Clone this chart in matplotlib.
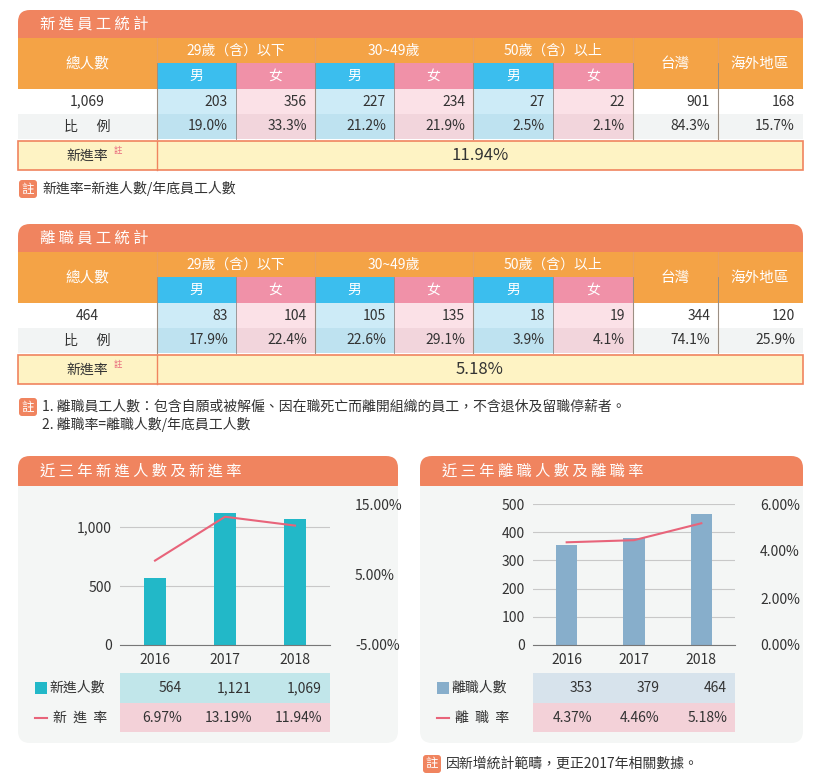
import matplotlib.pyplot as plt
from matplotlib.patches import Rectangle, FancyBboxPatch
from matplotlib.ticker import FuncFormatter

plt.rcParams['font.family'] = ['Noto Sans CJK TC']

# ---- data ----
col_groups = ['29歲（含）以下', '30~49歲', '50歲（含）以上']
genders = ['男', '女']
hire_total = '1,069'
hire_counts = [203, 356, 227, 234, 27, 22, 901, 168]
hire_ratio = ['19.0%', '33.3%', '21.2%', '21.9%', '2.5%', '2.1%', '84.3%', '15.7%']
hire_rate = '11.94%'
leave_total = '464'
leave_counts = [83, 104, 105, 135, 18, 19, 344, 120]
leave_ratio = ['17.9%', '22.4%', '22.6%', '29.1%', '3.9%', '4.1%', '74.1%', '25.9%']
leave_rate = '5.18%'

years = ['2016', '2017', '2018']
new_hires = [564, 1121, 1069]
new_rate = [6.97, 13.19, 11.94]
leavers = [353, 379, 464]
leave_rate_hist = [4.37, 4.46, 5.18]

ORANGE = '#F0845F'
HDR = '#F4A346'
BLUE = '#3BBEEE'
PINK = '#F091A8'
LBLUE = '#CDEBF7'
LPINK = '#FBE1E7'
RBLUE = '#BEE2F0'
RPINK = '#F2D5DC'
GRAY = '#F2F4F4'
TEXT = '#333333'

fig = plt.figure(figsize=(8.15, 7.83), dpi=100)
ax = fig.add_axes([0, 0, 1, 1])
ax.set_xlim(0, 815)
ax.set_ylim(783, 0)
ax.axis('off')

cols = [18, 157, 236, 315, 394, 473, 553, 633, 718, 803]


def rect(x0, y0, x1, y1, fc, ec='none', lw=0, z=1):
    ax.add_patch(Rectangle((x0, y0), x1 - x0, y1 - y0, fc=fc, ec=ec, lw=lw, zorder=z))


def title_bar(x0, y0, x1, y1, text):
    ax.add_patch(FancyBboxPatch((x0, y0), x1 - x0, (y1 - y0) * 2, boxstyle='round,pad=0,rounding_size=12',
                                fc=ORANGE, ec='none', zorder=1))
    rect(x0, y1, x1, y1 + (y1 - y0) + 2, 'white', z=1.5)
    ax.text(x0 + 22, (y0 + y1) / 2, '  '.join(text).replace('  ', ' '), color='white', fontsize=11,
            va='center', ha='left', zorder=3)


def table(y0, title, total, counts, ratio, rate):
    title_bar(18, y0, 803, y0 + 28, title)
    h1, h2, d, r, e = y0 + 28, y0 + 53, y0 + 79, y0 + 104, y0 + 129
    rect(18, h1, 803, d, HDR, z=2)
    ax.text(87, (h1 + d) / 2, '總人數', color='white', fontsize=10.5, ha='center', va='center', zorder=3)
    for i, g in enumerate(col_groups):
        xa, xb = cols[1 + 2 * i], cols[3 + 2 * i]
        ax.text((xa + xb) / 2, (h1 + h2) / 2, g, color='white', fontsize=10, ha='center', va='center', zorder=3)
        for j, gd in enumerate(genders):
            c0, c1 = cols[1 + 2 * i + j], cols[2 + 2 * i + j]
            rect(c0, h2, c1, d, BLUE if j == 0 else PINK, z=2)
            ax.text((c0 + c1) / 2, (h2 + d) / 2, gd, color='white', fontsize=10, ha='center', va='center', zorder=3)
            rect(c0, d, c1, r, LBLUE if j == 0 else LPINK, z=2)
            rect(c0, r, c1, e, RBLUE if j == 0 else RPINK, z=2)
    ax.text(675, (h1 + d) / 2, '台灣', color='white', fontsize=10.5, ha='center', va='center', zorder=3)
    ax.text(760, (h1 + d) / 2, '海外地區', color='white', fontsize=10.5, ha='center', va='center', zorder=3)
    rect(18, r, 157, e, GRAY, z=2)
    rect(633, r, 803, e, GRAY, z=2)
    for x in cols[1:-1]:
        ax.plot([x, x], [h1 if x in (157, 315, 473, 633, 718) else h2, e], color='white' if False else '#E8A060',
                lw=0.8, zorder=4) if x in (157, 315, 473, 633, 718) else None
        ax.plot([x, x], [h2, e], color='#8C8C8C', lw=0.6, zorder=4)
    ax.text(87, (d + r) / 2, total, fontsize=10, color=TEXT, ha='center', va='center', zorder=3)
    ax.text(87, (r + e) / 2, '比      例', fontsize=10, color=TEXT, ha='center', va='center', zorder=3)
    for k in range(8):
        ax.text(cols[k + 2] - 8, (d + r) / 2, f'{counts[k]:,}', fontsize=10, color=TEXT, ha='right', va='center', zorder=5)
        ax.text(cols[k + 2] - 8, (r + e) / 2, ratio[k], fontsize=10, color=TEXT, ha='right', va='center', zorder=5)
    rect(18, e + 2, 803, e + 31, '#FEF3C4', ec=ORANGE, lw=1.2, z=2)
    ax.plot([157, 157], [e + 2, e + 31], color=ORANGE, lw=1.0, zorder=3)
    ax.text(87, e + 17, '新進率', fontsize=10, color=TEXT, ha='center', va='center', zorder=3)
    ax.text(118, e + 12, '註', fontsize=6, color='#E8647A', ha='center', va='center', zorder=3)
    ax.text(480, e + 17, rate, fontsize=12, color=TEXT, ha='center', va='center', zorder=3)


def note_tag(x, y):
    ax.add_patch(FancyBboxPatch((x, y - 9), 18, 18, boxstyle='round,pad=0,rounding_size=3', fc=ORANGE, ec='none'))
    ax.text(x + 9, y, '註', color='white', fontsize=9, ha='center', va='center')


table(10, '新進員工統計', hire_total, hire_counts, hire_ratio, hire_rate)
note_tag(19, 189)
ax.text(42, 189, '新進率=新進人數/年底員工人數', fontsize=10, color=TEXT, va='center')

table(224, '離職員工統計', leave_total, leave_counts, leave_ratio, leave_rate)
note_tag(19, 407)
ax.text(42, 407, '1. 離職員工人數：包含自願或被解僱、因在職死亡而離開組織的員工，不含退休及留職停薪者。',
        fontsize=10, color=TEXT, va='center')
ax.text(42, 425, '2. 離職率=離職人數/年底員工人數', fontsize=10, color=TEXT, va='center')


def chart_panel(x0, x1, title, vals, rates, bar_c, lbl1, lbl2, lylim, lticks, lfmt, rylim, rticks):
    ax.add_patch(FancyBboxPatch((x0, 456), x1 - x0, 287, boxstyle='round,pad=0,rounding_size=12',
                                fc='#F4F6F5', ec='none', zorder=0.5))
    ax.add_patch(FancyBboxPatch((x0, 456), x1 - x0, 40, boxstyle='round,pad=0,rounding_size=12',
                                fc=ORANGE, ec='none', zorder=1))
    rect(x0, 486, x1, 497, '#F4F6F5', z=1.5)
    ax.text(x0 + 22, 471, ' '.join(title), color='white', fontsize=11, va='center', zorder=3)
    px0 = x0 + 102 if x0 < 400 else x0 + 113
    pw = 210 if x0 < 400 else 202
    cax = fig.add_axes([px0 / 815, 1 - 645 / 783, pw / 815, 141 / 783])
    cax.patch.set_alpha(0)
    xs = range(len(vals))
    cax.bar(xs, vals, width=0.32, color=bar_c, zorder=2)
    cax.set_ylim(*lylim)
    cax.set_yticks(lticks)
    cax.yaxis.set_major_formatter(FuncFormatter(lfmt))
    cax.grid(axis='y', color='#C8C8C8', lw=0.8, zorder=0)
    cax.set_xlim(-0.5, 2.5)
    cax.set_xticks(list(xs))
    cax.set_xticklabels(years)
    for s in ['top', 'right', 'left']:
        cax.spines[s].set_visible(False)
    cax.spines['bottom'].set_color('#777777')
    cax.tick_params(length=0, labelsize=10, colors=TEXT, pad=6)
    rax = cax.twinx()
    rax.plot(xs, rates, color='#E8647A', lw=1.5)
    rax.set_ylim(*rylim)
    rax.set_yticks(rticks)
    rax.yaxis.set_major_formatter(FuncFormatter(lambda v, p: f'{v:.2f}%'))
    for s in rax.spines.values():
        s.set_visible(False)
    rax.tick_params(length=0, labelsize=10, colors=TEXT, pad=18)
    # data table below
    tx0, tx1 = px0, px0 + pw
    rect(tx0, 673, tx1, 703, '#C1E6EA' if x0 < 400 else '#D7E3EC', z=1)
    rect(tx0, 703, tx1, 732, '#F3D1D8', z=1)
    step = pw / 3
    for k in range(3):
        ax.text(tx0 + step * (k + 1) - 8, 688, f'{vals[k]:,}', fontsize=10, color=TEXT, ha='right', va='center', zorder=3)
        ax.text(tx0 + step * (k + 1) - 8, 718, f'{rates[k]:.2f}%', fontsize=10, color=TEXT, ha='right', va='center', zorder=3)
    rect(x0 + 17, 682, x0 + 29, 694, bar_c, z=3)
    ax.text(x0 + 31, 688, lbl1, fontsize=10, color=TEXT, va='center', zorder=3)
    ax.plot([x0 + 17, x0 + 29], [718, 718], color='#E8647A', lw=1.5, zorder=3)
    ax.text(x0 + 35, 718, lbl2, fontsize=10, color=TEXT, va='center', zorder=3)


chart_panel(18, 398, '近三年新進人數及新進率', new_hires, new_rate, '#22B8C8', '新進人數', '新  進  率',
            (0, 1195), [0, 500, 1000], lambda v, p: f'{int(v):,}', (-5, 15), [-5, 5, 15])
chart_panel(420, 803, '近三年離職人數及離職率', leavers, leave_rate_hist, '#87AECB', '離職人數', '離  職  率',
            (0, 500), [0, 100, 200, 300, 400, 500], lambda v, p: f'{int(v)}', (0, 6), [0, 2, 4, 6])

note_tag(423, 764)
ax.text(446, 764, '因新增統計範疇，更正2017年相關數據。', fontsize=10, color=TEXT, va='center')

fig.savefig('out.png', dpi=100)
